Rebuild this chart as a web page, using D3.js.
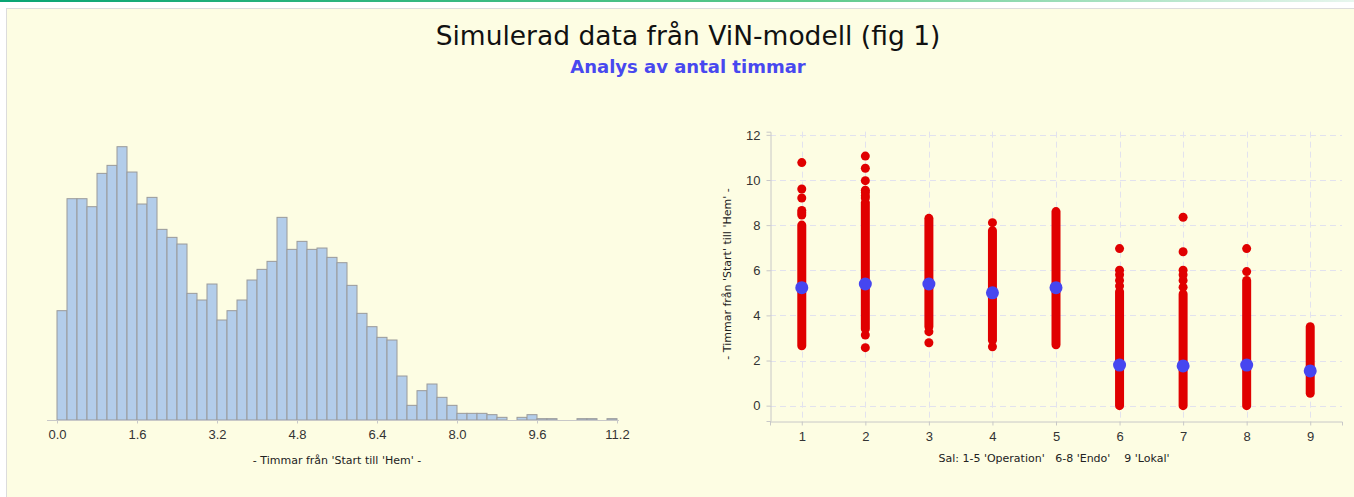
<!DOCTYPE html>
<html>
<head>
<meta charset="utf-8">
<script src="https://cdn.jsdelivr.net/npm/d3@7"></script>
<style>
  body { margin: 0; background: #fff; }
  svg { display: block; font-family: "DejaVu Sans", Tahoma, sans-serif; }
  .tick-label { font-size: 13px; fill: #333; }
  .axis-title { font-size: 11px; fill: #222; }
</style>
</head>
<body>
<svg id="chart" width="1354" height="497"></svg>
<script>
// histogram: bins of 0.2 h from 0.0 to 11.2
var binWidth = 0.2;
var binCounts = [82, 166, 166, 160, 185, 191, 205, 186, 162, 167, 143, 137, 132, 95,
  90, 102, 75, 82, 90, 105, 113, 119, 152, 128, 134, 128, 129, 122, 118, 101,
  80, 70, 62, 60, 33, 11, 22, 27, 17, 11, 5, 5, 5, 4, 2, 0, 2, 4, 1, 1,
  0, 0, 1, 1, 0, 1];
var histTicks = [0, 1.6, 3.2, 4.8, 6.4, 8.0, 9.6, 11.2];

// scatter: per room, dense range of hours plus single outliers and the mean
var rooms = [1, 2, 3, 4, 5, 6, 7, 8, 9];
var denseLow = [2.65, 3.4, 3.5, 2.9, 2.7, 0, 0, 0, 0.55];
var denseHigh = [8.0, 9.0, 8.3, 7.75, 8.6, 5.05, 4.95, 5.55, 3.5];
var outliers = [
  [8.45, 8.55, 8.65, 9.2, 9.6, 10.77],
  [2.57, 3.13, 9.2, 9.3, 9.45, 9.55, 9.97, 10.52, 11.06],
  [2.79, 3.28],
  [2.61, 8.11],
  [],
  [5.3, 5.55, 5.8, 6.0, 6.96],
  [5.25, 5.55, 5.8, 6.0, 6.82, 8.35],
  [5.94, 6.96],
  []
];
var means = [5.23, 5.39, 5.39, 5.0, 5.23, 1.8, 1.76, 1.8, 1.54];
var yTicks = [0, 2, 4, 6, 8, 10, 12];

var svg = d3.select('#chart');

// top strip and panel
var grad = svg.append('defs').append('linearGradient').attr('id', 'topline');
grad.append('stop').attr('offset', '0%').attr('stop-color', '#0aa574');
grad.append('stop').attr('offset', '60%').attr('stop-color', '#5cc98c');
grad.append('stop').attr('offset', '100%').attr('stop-color', '#e8f6ee');
svg.append('rect').attr('x', 0).attr('y', 0).attr('width', 1354).attr('height', 2).attr('fill', 'url(#topline)');
svg.append('rect').attr('x', 6.5).attr('y', 8.5).attr('width', 1360).attr('height', 500)
  .attr('fill', '#fdfde3').attr('stroke', '#dcdcdc');

svg.append('text').attr('x', 688).attr('y', 45).attr('text-anchor', 'middle')
  .style('font-size', '26.5px').style('fill', '#111')
  .text('Simulerad data från ViN-modell (fig 1)');
svg.append('text').attr('x', 688).attr('y', 73).attr('text-anchor', 'middle')
  .style('font-size', '18px').style('font-weight', 'bold').style('fill', '#4848ef')
  .text('Analys av antal timmar');

// ---- histogram ----
var hx = d3.scaleLinear().domain([0, 11.2]).range([57, 617]);
var hy = d3.scaleLinear().domain([0, 205]).range([420, 146.7]);

var hist = svg.append('g');
hist.selectAll('rect.bar')
  .data(binCounts.map(function(c, i) { return { x0: i * binWidth, n: c }; }).filter(function(d) { return d.n > 0; }))
  .enter().append('rect')
    .attr('class', 'bar')
    .attr('x', function(d) { return hx(d.x0); })
    .attr('y', function(d) { return hy(d.n); })
    .attr('width', function(d) { return hx(d.x0 + binWidth) - hx(d.x0); })
    .attr('height', function(d) { return hy(0) - hy(d.n); })
    .attr('fill', '#b3cdea')
    .attr('stroke', '#9a9a9a')
    .attr('stroke-width', 1);

var hAxis = d3.axisBottom(hx).tickValues(histTicks).tickFormat(d3.format('.1f')).tickSize(3).tickPadding(6);
var hg = svg.append('g').attr('transform', 'translate(0,420.5)').call(hAxis);
hg.select('.domain').attr('d', 'M47,0H619').attr('stroke', '#c8c8c8');
hg.selectAll('.tick line').attr('stroke', '#c8c8c8');
hg.selectAll('.tick text').attr('class', 'tick-label').attr('font-family', null).attr('font-size', null);
svg.append('text').attr('class', 'axis-title').attr('x', 337).attr('y', 464).attr('text-anchor', 'middle')
  .text("- Timmar från 'Start till 'Hem' -");

// ---- scatter ----
var sx = d3.scaleLinear().domain([0.5, 9.5]).range([770, 1342]);
var sy = d3.scaleLinear().domain([-0.68, 12.14]).range([421, 131.7]);

var grid = svg.append('g').attr('stroke', '#e2e2ee').attr('stroke-dasharray', '6,4');
grid.selectAll('line.h').data(yTicks).enter().append('line')
  .attr('x1', 770).attr('x2', 1342)
  .attr('y1', function(d) { return Math.round(sy(d)) + 0.5; })
  .attr('y2', function(d) { return Math.round(sy(d)) + 0.5; });
grid.selectAll('line.v').data(rooms).enter().append('line')
  .attr('y1', 131.7).attr('y2', 421)
  .attr('x1', function(d) { return Math.round(sx(d)) + 0.5; })
  .attr('x2', function(d) { return Math.round(sx(d)) + 0.5; });

var yAxis = d3.axisLeft(sy).tickValues(yTicks).tickSize(4).tickPadding(6);
var yg = svg.append('g').attr('transform', 'translate(770.5,0)').call(yAxis);
yg.select('.domain').attr('stroke', '#c8c8c8');
yg.selectAll('.tick line').attr('stroke', '#c8c8c8');
yg.selectAll('.tick text').attr('class', 'tick-label').attr('font-family', null).attr('font-size', null);

var xAxis = d3.axisBottom(sx).tickValues(rooms).tickFormat(d3.format('d')).tickSize(4).tickPadding(6);
var xg = svg.append('g').attr('transform', 'translate(0,421.5)').call(xAxis);
xg.select('.domain').attr('stroke', '#c8c8c8');
xg.selectAll('.tick line').attr('stroke', '#c8c8c8');
xg.selectAll('.tick text').attr('class', 'tick-label').attr('font-family', null).attr('font-size', null);

var pts = svg.append('g');
// dense runs of overlapping points
pts.selectAll('line.run')
  .data(rooms.map(function(r, i) { return { r: r, lo: denseLow[i], hi: denseHigh[i] }; }))
  .enter().append('line')
    .attr('x1', function(d) { return sx(d.r); })
    .attr('x2', function(d) { return sx(d.r); })
    .attr('y1', function(d) { return sy(d.lo); })
    .attr('y2', function(d) { return sy(d.hi); })
    .attr('stroke', '#e00000')
    .attr('stroke-width', 9)
    .attr('stroke-linecap', 'round');

var single = [];
rooms.forEach(function(r, i) {
  outliers[i].forEach(function(v) { single.push({ r: r, v: v }); });
});
pts.selectAll('circle.out').data(single).enter().append('circle')
  .attr('cx', function(d) { return sx(d.r); })
  .attr('cy', function(d) { return sy(d.v); })
  .attr('r', 4.5)
  .attr('fill', '#e00000');

pts.selectAll('circle.mean').data(rooms).enter().append('circle')
  .attr('cx', function(d) { return sx(d); })
  .attr('cy', function(d, i) { return sy(means[i]); })
  .attr('r', 6.5)
  .attr('fill', '#4646f0');

svg.append('text').attr('class', 'axis-title').attr('x', 1054).attr('y', 462).attr('text-anchor', 'middle')
  .attr('xml:space', 'preserve')
  .text("Sal: 1-5 'Operation'   6-8 'Endo'    9 'Lokal'");
svg.append('text').attr('class', 'axis-title')
  .attr('transform', 'translate(731,274) rotate(-90)').attr('text-anchor', 'middle')
  .text("- Timmar från 'Start' till 'Hem' -");
</script>
</body>
</html>
